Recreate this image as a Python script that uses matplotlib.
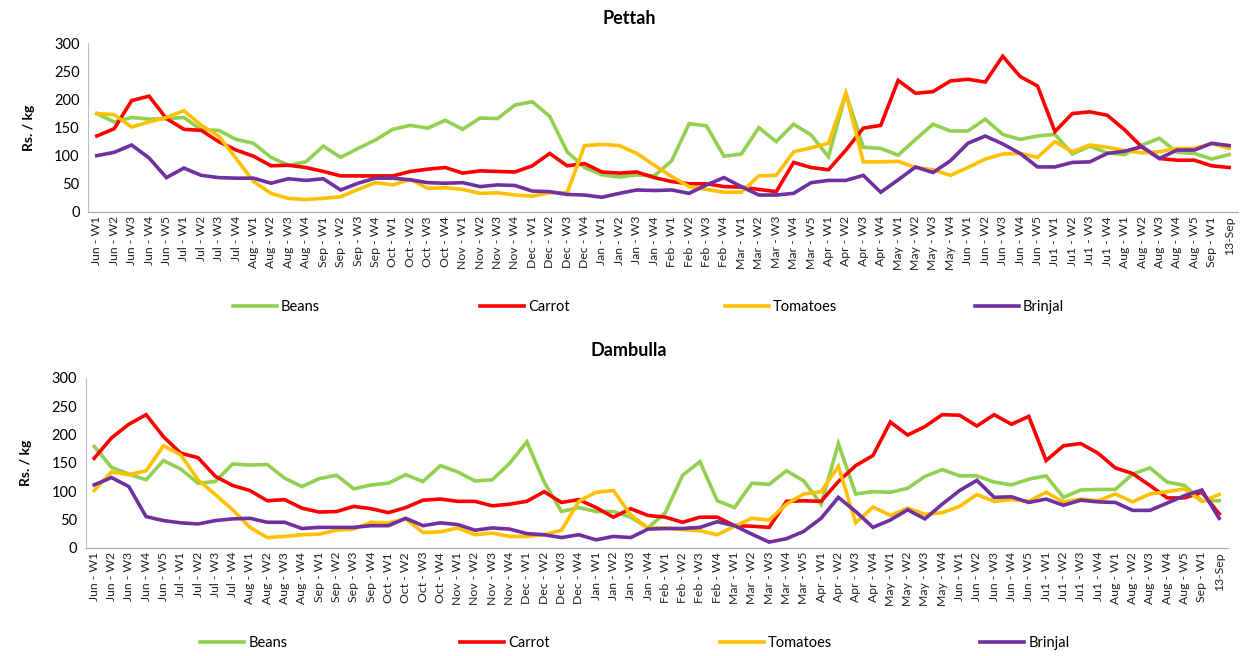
import matplotlib
matplotlib.use("Agg")
import matplotlib.pyplot as plt

plt.rcParams['font.family'] = ['Lato', 'DejaVu Sans']

weeks = ["Jun - W1", "Jun - W2", "Jun - W3", "Jun - W4", "Jun - W5",
         "Jul - W1", "Jul - W2", "Jul - W3", "Jul - W4",
         "Aug - W1", "Aug - W2", "Aug - W3", "Aug - W4",
         "Sep - W1", "Sep - W2", "Sep - W3", "Sep - W4",
         "Oct - W1", "Oct - W2", "Oct - W3", "Oct - W4",
         "Nov - W1", "Nov - W2", "Nov - W3", "Nov - W4",
         "Dec - W1", "Dec - W2", "Dec - W3", "Dec - W4",
         "Jan - W1", "Jan - W2", "Jan - W3", "Jan - W4",
         "Feb - W1", "Feb - W2", "Feb - W3", "Feb - W4",
         "Mar - W1", "Mar - W2", "Mar - W3", "Mar - W4", "Mar - W5",
         "Apr - W1", "Apr - W2", "Apr - W3", "Apr - W4",
         "May - W1", "May - W2", "May - W3", "May - W4",
         "Jun - W1", "Jun - W2", "Jun - W3", "Jun - W4", "Jun - W5",
         "Ju1 - W1", "Ju1 - W2", "Ju1 - W3", "Ju1 - W4",
         "Aug - W1", "Aug - W2", "Aug - W3", "Aug - W4", "Aug - W5",
         "Sep - W1", "13-Sep"]

# Pettah (Rs./kg)
pettah_beans = [175, 160, 168, 165, 166, 168, 146, 145, 129, 122, 97, 83, 89, 117, 97, 113,
                128, 147, 154, 149, 163, 147, 167, 166, 190, 196, 170, 107, 79, 66, 62, 66,
                64, 91, 157, 153, 99, 103, 150, 125, 156, 137, 98, 211, 115, 113, 101, 129,
                156, 144, 144, 165, 138, 129, 135, 138, 103, 117, 105, 102, 119, 131, 106, 104,
                94, 102]
pettah_carrot = [135, 148, 198, 206, 166, 147, 145, 125, 110, 99, 82, 83, 79, 72, 64, 64,
                 64, 64, 72, 76, 79, 69, 73, 72, 71, 82, 104, 82, 86, 71, 69, 71,
                 61, 54, 50, 50, 45, 44, 40, 36, 88, 79, 75, 110, 149, 154, 234, 211,
                 214, 233, 236, 231, 277, 241, 224, 143, 175, 178, 172, 146, 115, 95, 92, 92,
                 82, 79]
pettah_tomatoes = [175, 173, 151, 160, 168, 180, 154, 135, 95, 54, 33, 24, 22, 24, 27, 40,
                   52, 48, 58, 42, 43, 40, 33, 34, 30, 28, 34, 34, 118, 120, 118, 104,
                   83, 63, 45, 40, 35, 35, 64, 65, 107, 114, 122, 211, 89, 89, 90, 79,
                   75, 65, 79, 94, 103, 104, 97, 125, 107, 119, 115, 109, 105, 107, 113, 113,
                   122, 113]
pettah_brinjal = [100, 106, 119, 96, 61, 78, 65, 61, 60, 60, 51, 59, 56, 59, 39, 51,
                  60, 60, 57, 52, 51, 52, 45, 48, 47, 37, 36, 31, 30, 26, 33, 39,
                  38, 39, 33, 48, 61, 45, 30, 30, 33, 52, 56, 56, 65, 35, 57, 80,
                  70, 91, 122, 135, 121, 104, 80, 80, 88, 89, 104, 108, 116, 95, 110, 110,
                  122, 118]

# Dambulla (Rs./kg)
dambulla_beans = [179, 142, 130, 120, 154, 139, 114, 117, 148, 146, 147, 123, 108, 122, 128, 104,
                  111, 114, 129, 117, 145, 134, 118, 120, 149, 187, 116, 64, 71, 64, 64, 54,
                  35, 62, 128, 152, 83, 71, 114, 112, 136, 118, 77, 184, 95, 99, 98, 105,
                  126, 138, 127, 127, 116, 111, 121, 127, 89, 102, 103, 103, 130, 141, 116, 110,
                  83, 83]
dambulla_carrot = [158, 194, 218, 235, 196, 167, 159, 126, 110, 101, 83, 85, 70, 63, 64, 73,
                   69, 62, 71, 84, 86, 82, 82, 74, 77, 82, 99, 80, 85, 71, 54, 69,
                   57, 54, 45, 54, 54, 39, 38, 36, 82, 83, 82, 117, 145, 163, 222, 199,
                   214, 235, 234, 215, 235, 218, 232, 154, 180, 184, 167, 141, 131, 110, 88, 88,
                   98, 60]
dambulla_tomatoes = [101, 134, 129, 136, 180, 164, 120, 94, 67, 36, 18, 20, 23, 24, 31, 33,
                     45, 44, 51, 27, 28, 35, 23, 26, 20, 20, 23, 31, 82, 98, 101, 58,
                     35, 35, 32, 30, 23, 38, 52, 49, 77, 95, 99, 144, 44, 72, 57, 70,
                     59, 62, 73, 94, 82, 85, 82, 98, 81, 86, 83, 95, 81, 95, 99, 104,
                     82, 94]
dambulla_brinjal = [111, 124, 108, 55, 48, 44, 42, 48, 51, 52, 45, 45, 34, 36, 36, 36,
                    39, 39, 52, 39, 44, 41, 31, 35, 33, 25, 23, 18, 23, 14, 20, 18,
                    33, 34, 34, 36, 46, 39, 24, 10, 16, 29, 52, 89, 64, 36, 49, 67,
                    51, 77, 101, 119, 89, 90, 80, 86, 75, 84, 81, 80, 66, 66, 79, 92,
                    102, 52]

names = ["Beans", "Carrot", "Tomatoes", "Brinjal"]
colors = ["#92D050", "#FF0000", "#FFC000", "#7030A0"]

fig = plt.figure(figsize=(12.58, 6.56), dpi=100)
ax1 = fig.add_axes([0.070, 0.677, 0.914, 0.257])
ax2 = fig.add_axes([0.068, 0.165, 0.908, 0.259])


def draw(ax, title, title_y, series, legend_x, legend_y):
    x = range(len(weeks))
    lines = []
    for name, vals, c in zip(names, series, colors):
        ln, = ax.plot(x, vals, color=c, lw=2.6, label=name, solid_joinstyle="miter")
        lines.append(ln)
    ax.set_xlim(-0.5, len(weeks) - 0.5)
    ax.set_ylim(0, 300)
    ax.set_yticks(range(0, 301, 50))
    ax.set_xticks(list(x))
    ax.set_xticklabels(weeks, rotation=90, fontsize=8.8, color="#222222")
    ax.tick_params(axis="y", labelsize=10.5, length=0, pad=6)
    ax.tick_params(axis="x", length=0, pad=3)
    for s in ["top", "right"]:
        ax.spines[s].set_visible(False)
    ax.spines["left"].set_color("#BFBFBF")
    ax.spines["bottom"].set_color("#A6A6A6")
    ax.set_ylabel("Rs. / kg", fontsize=10, fontweight="bold", labelpad=14)
    fig.text(0.5, title_y, title, fontsize=13, fontweight="bold", ha="center", va="center")
    # Excel-style legend: equally spaced entries
    for ln, lx in zip(lines, legend_x):
        fig.legend([ln], [ln.get_label()], loc="center left", bbox_to_anchor=(lx, legend_y),
                   frameon=False, fontsize=10.5, handlelength=3.0, handletextpad=0.3,
                   borderpad=0, borderaxespad=0)


draw(ax1, "Pettah", 1 - 18 / 656,
     [pettah_beans, pettah_carrot, pettah_tomatoes, pettah_brinjal],
     [233 / 1258, 480 / 1258, 725 / 1258, 975 / 1258], 1 - 307 / 656)
draw(ax2, "Dambulla", 1 - 350 / 656,
     [dambulla_beans, dambulla_carrot, dambulla_tomatoes, dambulla_brinjal],
     [200 / 1258, 460 / 1258, 720 / 1258, 980 / 1258], 1 - 643 / 656)

fig.savefig("out.png", dpi=100)
